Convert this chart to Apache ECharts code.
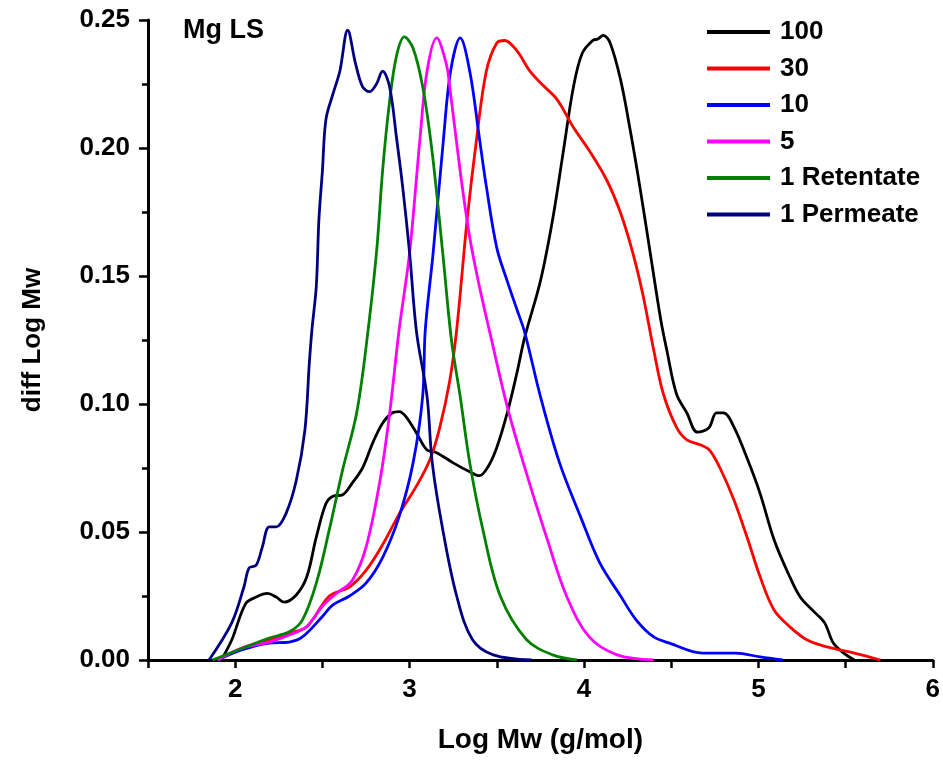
<!DOCTYPE html>
<html>
<head>
<meta charset="utf-8">
<script src="https://cdn.jsdelivr.net/npm/echarts@6/dist/echarts.min.js"></script>
<style>
  html, body { margin: 0; padding: 0; background: #fff; }
  #main { width: 943px; height: 760px; }
</style>
</head>
<body>
<div id="main"></div>
<script>
// Log Mw values (x) and diff Log Mw values (y)
const names = ['100', '30', '10', '5', '1 Retentate', '1 Permeate'];
const colors = ['#000000', '#ff0000', '#0000ff', '#ff00ff', '#008000', '#000080'];

const x100 = [1.92, 1.98, 2.06, 2.12, 2.185, 2.235, 2.28, 2.35, 2.41, 2.465, 2.52, 2.56, 2.615, 2.67, 2.73, 2.79, 2.845, 2.90, 2.94, 2.98, 3.04, 3.10, 3.155, 3.25, 3.345, 3.40, 3.45, 3.50, 3.56, 3.615, 3.66, 3.75, 3.82, 3.88, 3.94, 3.99, 4.05, 4.08, 4.11, 4.15, 4.21, 4.265, 4.32, 4.38, 4.44, 4.475, 4.53, 4.59, 4.65, 4.715, 4.76, 4.80, 4.86, 4.94, 5.01, 5.09, 5.17, 5.24, 5.32, 5.38, 5.43, 5.49, 5.55];
const y100 = [0, 0.0078, 0.022, 0.0246, 0.026, 0.0246, 0.0226, 0.0254, 0.0324, 0.048, 0.061, 0.064, 0.0645, 0.069, 0.075, 0.085, 0.0925, 0.0965, 0.097, 0.095, 0.0886, 0.082, 0.081, 0.077, 0.0735, 0.072, 0.0755, 0.083, 0.0965, 0.112, 0.126, 0.148, 0.172, 0.198, 0.224, 0.237, 0.242, 0.2426, 0.244, 0.241, 0.2266, 0.207, 0.185, 0.159, 0.133, 0.121, 0.104, 0.0965, 0.089, 0.0906, 0.0965, 0.0965, 0.091, 0.078, 0.065, 0.047, 0.034, 0.0246, 0.0188, 0.0145, 0.0066, 0.0027, 0];

const x30 = [1.90, 2.04, 2.195, 2.31, 2.41, 2.54, 2.655, 2.75, 2.845, 2.94, 3.04, 3.115, 3.17, 3.23, 3.27, 3.33, 3.385, 3.44, 3.50, 3.545, 3.615, 3.69, 3.765, 3.845, 3.94, 4.03, 4.13, 4.21, 4.28, 4.34, 4.40, 4.455, 4.53, 4.59, 4.67, 4.72, 4.78, 4.86, 4.94, 5.01, 5.09, 5.18, 5.28, 5.40, 5.55, 5.70];
const y30 = [0, 0.0047, 0.0078, 0.0105, 0.013, 0.025, 0.0285, 0.035, 0.045, 0.057, 0.068, 0.078, 0.090, 0.109, 0.129, 0.172, 0.204, 0.230, 0.241, 0.242, 0.238, 0.230, 0.2245, 0.219, 0.208, 0.199, 0.1875, 0.1746, 0.159, 0.142, 0.121, 0.104, 0.091, 0.086, 0.084, 0.082, 0.075, 0.0625, 0.047, 0.0325, 0.0195, 0.013, 0.0078, 0.005, 0.0027, 0];

const x10 = [1.90, 2.04, 2.195, 2.31, 2.385, 2.50, 2.56, 2.655, 2.75, 2.845, 2.94, 3.02, 3.075, 3.09, 3.135, 3.195, 3.235, 3.29, 3.345, 3.40, 3.44, 3.50, 3.56, 3.615, 3.66, 3.75, 3.86, 3.98, 4.09, 4.21, 4.30, 4.40, 4.49, 4.68, 4.87, 5.01, 5.14];
const y10 = [0, 0.004, 0.0066, 0.007, 0.009, 0.017, 0.0215, 0.025, 0.030, 0.040, 0.056, 0.077, 0.103, 0.129, 0.159, 0.204, 0.230, 0.243, 0.230, 0.204, 0.185, 0.161, 0.148, 0.137, 0.128, 0.103, 0.077, 0.056, 0.038, 0.025, 0.0156, 0.009, 0.0066, 0.0027, 0.0027, 0.0012, 0];

const x5 = [1.90, 2.04, 2.195, 2.31, 2.41, 2.50, 2.58, 2.67, 2.75, 2.83, 2.885, 2.94, 3.0, 3.06, 3.10, 3.155, 3.21, 3.23, 3.29, 3.345, 3.40, 3.46, 3.56, 3.67, 3.79, 3.90, 4.03, 4.19, 4.40];
const y5 = [0, 0.0047, 0.007, 0.0098, 0.013, 0.021, 0.026, 0.031, 0.044, 0.070, 0.096, 0.129, 0.159, 0.204, 0.230, 0.243, 0.233, 0.224, 0.191, 0.165, 0.146, 0.128, 0.099, 0.073, 0.047, 0.025, 0.009, 0.002, 0];

const x1r = [1.87, 2.02, 2.195, 2.31, 2.385, 2.465, 2.54, 2.615, 2.695, 2.75, 2.81, 2.845, 2.885, 2.925, 2.97, 3.02, 3.075, 3.13, 3.19, 3.24, 3.29, 3.345, 3.42, 3.52, 3.67, 3.82, 3.96];
const y1r = [0, 0.004, 0.0086, 0.011, 0.0156, 0.030, 0.051, 0.074, 0.096, 0.122, 0.159, 0.191, 0.218, 0.236, 0.2434, 0.239, 0.224, 0.198, 0.159, 0.125, 0.103, 0.077, 0.051, 0.025, 0.008, 0.002, 0];

const x1p = [1.85, 1.98, 2.05, 2.08, 2.12, 2.155, 2.195, 2.235, 2.29, 2.35, 2.40, 2.425, 2.44, 2.465, 2.48, 2.50, 2.52, 2.56, 2.60, 2.645, 2.69, 2.73, 2.77, 2.81, 2.845, 2.885, 2.925, 2.96, 3.0, 3.04, 3.10, 3.13, 3.19, 3.27, 3.36, 3.48, 3.70];
const y1p = [0, 0.0145, 0.0285, 0.036, 0.037, 0.044, 0.052, 0.052, 0.057, 0.070, 0.090, 0.116, 0.129, 0.146, 0.172, 0.191, 0.211, 0.221, 0.230, 0.246, 0.233, 0.224, 0.222, 0.225, 0.230, 0.224, 0.204, 0.185, 0.159, 0.128, 0.103, 0.077, 0.051, 0.025, 0.008, 0.002, 0];

const xs = [x100, x30, x10, x5, x1r, x1p];
const ys = [y100, y30, y10, y5, y1r, y1p];

const font = 'Liberation Sans, Arial, sans-serif';

let chart = echarts.init(document.getElementById('main'));

let series = names.map(function (n, i) {
    return {
        name: n,
        type: 'line',
        smooth: 0.35,
        symbol: 'none',
        data: xs[i].map(function (v, j) { return [v, ys[i][j]]; }),
        lineStyle: { color: colors[i], width: 2.8 },
        itemStyle: { color: colors[i] }
    };
});

let option = {
    animation: false,
    backgroundColor: '#ffffff',
    grid: { left: 148, right: 8, top: 20, bottom: 100 },
    legend: {
        orient: 'vertical',
        left: 707,
        top: 19,
        icon: 'rect',
        itemWidth: 63,
        itemHeight: 4,
        itemGap: 10.5,
        padding: 0,
        textStyle: { fontFamily: font, fontWeight: 'bold', fontSize: 26, lineHeight: 26, color: '#000', padding: [0, 0, 0, 5] },
        data: names
    },
    graphic: [{
        type: 'text',
        left: 183,
        top: 17,
        style: { text: 'Mg LS', fontFamily: font, fontWeight: 'bold', fontSize: 27, fill: '#000' }
    }],
    xAxis: {
        type: 'value',
        min: 1.5,
        max: 6,
        interval: 0.5,
        name: 'Log Mw (g/mol)',
        nameLocation: 'middle',
        nameGap: 66,
        nameTextStyle: { fontFamily: font, fontWeight: 'bold', fontSize: 28, color: '#000' },
        axisLine: { lineStyle: { color: '#000', width: 3 } },
        axisTick: { length: 8, lineStyle: { color: '#000', width: 2.5 } },
        axisLabel: {
            margin: 17,
            fontFamily: font, fontWeight: 'bold', fontSize: 26, color: '#000',
            formatter: function (v) { return Number.isInteger(v) ? String(v) : ''; }
        },
        splitLine: { show: false }
    },
    yAxis: {
        type: 'value',
        min: 0,
        max: 0.25,
        interval: 0.05,
        name: 'diff Log Mw',
        nameLocation: 'middle',
        nameGap: 102,
        nameTextStyle: { fontFamily: font, fontWeight: 'bold', fontSize: 26, color: '#000' },
        axisLine: { show: true, lineStyle: { color: '#000', width: 3 } },
        axisTick: { show: true, length: 9, lineStyle: { color: '#000', width: 2.5 } },
        minorTick: { show: true, splitNumber: 2, length: 6, lineStyle: { color: '#000', width: 2.5 } },
        axisLabel: {
            margin: 18,
            fontFamily: font, fontWeight: 'bold', fontSize: 26, color: '#000',
            formatter: function (v) { return v.toFixed(2); }
        },
        splitLine: { show: false }
    },
    series: series
};

chart.setOption(option);
</script>
</body>
</html>
